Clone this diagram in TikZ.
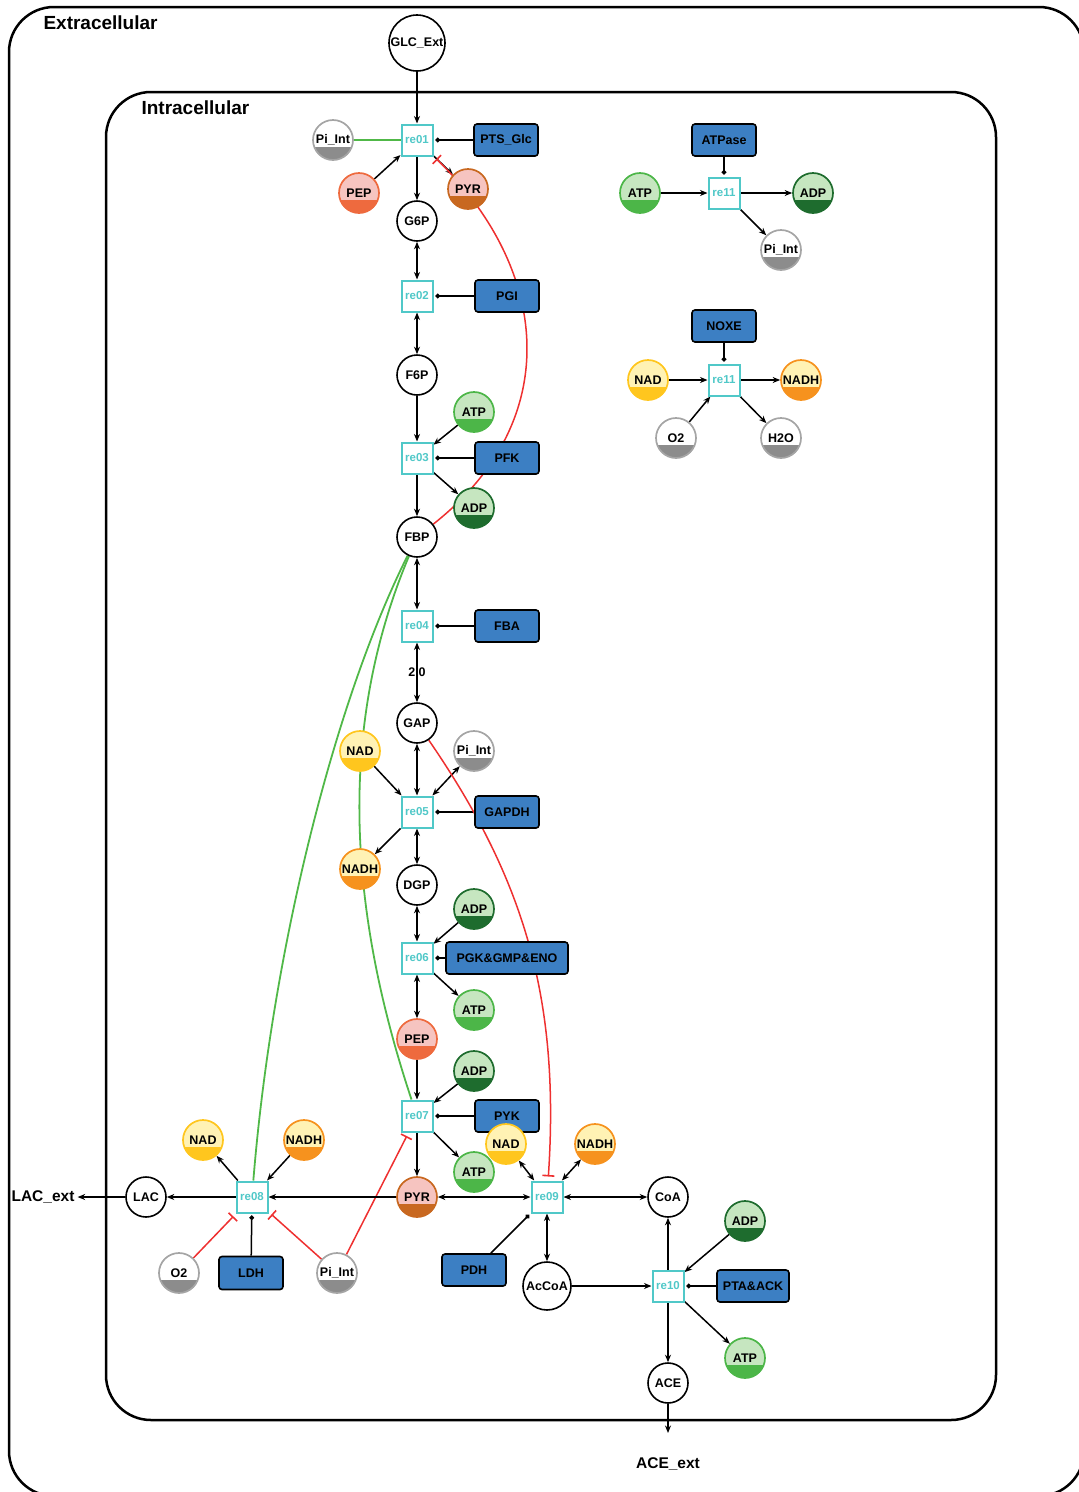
\documentclass[tikz,border=0pt]{standalone}
\usepackage{fontspec}
\setmainfont{Liberation Sans}
\usetikzlibrary{arrows.meta,calc}

\definecolor{rxcyan}{RGB}{80,200,200}
\definecolor{enzblue}{RGB}{60,127,195}
\definecolor{pinkL}{RGB}{246,196,192}
\definecolor{pepD}{RGB}{238,106,62}
\definecolor{pyrD}{RGB}{200,104,32}
\definecolor{grnL}{RGB}{198,230,192}
\definecolor{atpD}{RGB}{76,182,72}
\definecolor{adpD}{RGB}{30,108,46}
\definecolor{yelL}{RGB}{255,242,180}
\definecolor{nadD}{RGB}{255,198,30}
\definecolor{nadhD}{RGB}{246,146,30}
\definecolor{gryD}{RGB}{140,140,140}
\definecolor{gryB}{RGB}{165,165,165}
\definecolor{actgreen}{RGB}{80,184,72}
\definecolor{inhred}{RGB}{238,48,48}

\newcommand{\spfont}{\fontsize{12.5}{14}\selectfont\bfseries}
\newcommand{\rxfont}{\fontsize{11.5}{13}\selectfont\bfseries}
\newcommand{\ttlfont}{\fontsize{19}{22}\selectfont\bfseries}
\newcommand{\extfont}{\fontsize{15.5}{18}\selectfont\bfseries}

\pgfdeclarelayer{boxes}
\pgfdeclarelayer{links}
\pgfsetlayers{boxes,links,main}

\tikzset{
  sp/.style n args={3}{circle, draw=#3, fill=#1, line width=1.7pt,
    minimum size=40pt, inner sep=0pt, font=\spfont,
    path picture={\fill[#2] ([yshift=-7pt]path picture bounding box.center)
      ++(-30pt,0pt) rectangle ++(60pt,-30pt);}},
  pep/.style={sp={pinkL}{pepD}{pepD}},
  pyr/.style={sp={pinkL}{pyrD}{pyrD}},
  atp/.style={sp={grnL}{atpD}{atpD}},
  adp/.style={sp={grnL}{adpD}{adpD}},
  nad/.style={sp={yelL}{nadD}{nadD}},
  nadh/.style={sp={yelL}{nadhD}{nadhD}},
  inorg/.style={sp={white}{gryD}{gryB}},
  metab/.style={circle, draw=black, fill=white, line width=1.6pt,
    minimum size=40pt, inner sep=0pt, font=\spfont},
  rx/.style={draw=rxcyan, text=rxcyan, fill=white, line width=2pt,
    minimum size=31pt, inner sep=0pt, font=\rxfont},
  enz/.style={draw=black, fill=enzblue, rounded corners=3pt, line width=1.6pt,
    minimum width=64pt, minimum height=32pt, inner sep=0pt, font=\spfont},
  cv/.style={line width=1.5pt, -{Stealth[length=7.5pt,width=6pt]}},
  rv/.style={line width=1.5pt,
    {Stealth[length=7.5pt,width=6pt]}-{Stealth[length=7.5pt,width=6pt]}},
  md/.style={line width=1.5pt, -{Circle[length=4.5pt]}, shorten >=2pt},
  inh/.style={draw=inhred, line width=1.5pt,
    -{Bar[width=12pt,line width=1.6pt]}, shorten >=4pt},
  act/.style={draw=actgreen, line width=1.8pt},
}

\begin{document}
\begin{tikzpicture}[x=1pt,y=-1pt]
\useasboundingbox (0,0) rectangle (1079,1492);

% compartments
\begin{pgfonlayer}{boxes}
  \begin{scope}
    \clip (0,0) rectangle (1079,1492);
    \draw[line width=2.5pt, rounded corners=45pt] (9,7) rectangle (1084,1496);
  \end{scope}
  \draw[line width=2.5pt, rounded corners=45pt] (106,92) rectangle (996,1420);
\end{pgfonlayer}
\node[anchor=west, font=\ttlfont] (extlabel) at (40,23) {Extracellular};
\node[anchor=west, font=\ttlfont] (intlabel) at (138,108) {Intracellular};

% glycolysis column
\node[metab, minimum size=56pt] (glc) at (417,43) {GLC\_Ext};
\node[rx] (re01) at (417,140) {re01};
\node[inorg] (pi1) at (333,140) {Pi\_Int};
\node[enz] (pts) at (506,140) {PTS\_Glc};
\node[pep] (pep1) at (359,193) {PEP};
\node[pyr] (pyr1) at (468,189) {PYR};
\node[metab] (g6p) at (417,221) {G6P};
\node[rx] (re02) at (417,296) {re02};
\node[enz] (pgi) at (507,296) {PGI};
\node[metab] (f6p) at (417,375) {F6P};
\node[atp] (atp1) at (474,412) {ATP};
\node[rx] (re03) at (417,458) {re03};
\node[enz] (pfk) at (507,458) {PFK};
\node[adp] (adp1) at (474,508) {ADP};
\node[metab] (fbp) at (417,537) {FBP};
\node[rx] (re04) at (417,626) {re04};
\node[enz] (fba) at (507,626) {FBA};
\node[metab] (gap) at (417,723) {GAP};
\node[nad] (nad1) at (360,751) {NAD};
\node[inorg] (pi2) at (474,751) {Pi\_Int};
\node[rx] (re05) at (417,812) {re05};
\node[enz] (gapdh) at (507,812) {GAPDH};
\node[nadh] (nadh1) at (360,869) {NADH};
\node[metab] (dgp) at (417,885) {DGP};
\node[adp] (adp2) at (474,909) {ADP};
\node[rx] (re06) at (417,958) {re06};
\node[enz, minimum width=122pt] (pgk) at (507,958) {PGK\&GMP\&ENO};
\node[atp] (atp2) at (474,1010) {ATP};
\node[pep] (pep2) at (417,1039) {PEP};
\node[adp] (adp3) at (474,1071) {ADP};
\node[rx] (re07) at (417,1116) {re07};
\node[enz] (pyk) at (507,1116) {PYK};
\node[atp] (atp3) at (474,1172) {ATP};
\node[pyr] (pyr2) at (417,1197) {PYR};
\node[nad] (nad2) at (506,1144) {NAD};
\node[nadh] (nadh2) at (595,1144) {NADH};
\node[rx] (re09) at (547,1197) {re09};
\node[metab] (coa) at (668,1197) {CoA};

% lactate branch
\node[rx] (re08) at (252,1197) {re08};
\node[metab] (lac) at (146,1197) {LAC};
\node[font=\extfont, inner sep=3pt] (lacext) at (43,1197) {LAC\_ext};
\node[nad] (nad3) at (203,1140) {NAD};
\node[nadh] (nadh3) at (304,1140) {NADH};
\node[inorg] (o2a) at (179,1273) {O2};
\node[enz, minimum height=33pt] (ldh) at (251,1273) {LDH};
\node[inorg] (pi3) at (337,1273) {Pi\_Int};

% acetate branch
\node[enz] (pdh) at (474,1270) {PDH};
\node[metab, minimum size=48pt] (accoa) at (547,1286) {AcCoA};
\node[rx] (re10) at (668,1286) {re10};
\node[enz, minimum width=72pt] (pta) at (753,1286) {PTA\&ACK};
\node[adp] (adp4) at (745,1221) {ADP};
\node[atp] (atp4) at (745,1358) {ATP};
\node[metab] (ace) at (668,1383) {ACE};
\node[font=\extfont] (aceext) at (668,1464) {ACE\_ext};
\coordinate (aceout) at (668,1433);

% ATPase
\node[enz] (atpase) at (724,140) {ATPase};
\node[rx] (re11a) at (724,193) {re11};
\node[atp] (atp5) at (640,193) {ATP};
\node[adp] (adp5) at (813,193) {ADP};
\node[inorg] (pi4) at (781,250) {Pi\_Int};

% NADH oxidase
\node[enz] (noxe) at (724,326) {NOXE};
\node[rx] (re11b) at (724,380) {re11};
\node[nad] (nad4) at (648,380) {NAD};
\node[nadh] (nadh4) at (801,380) {NADH};
\node[inorg] (o2b) at (676,438) {O2};
\node[inorg] (h2o) at (781,438) {H2O};

\begin{pgfonlayer}{links}
  % re01
  \draw[cv] (glc) -- (re01);
  \draw[act] (pi1) -- (re01);
  \draw[md] (pts) -- (re01);
  \draw[cv] (pep1) -- (re01);
  \draw[cv] (re01) -- (pyr1);
  \draw[cv] (re01) -- (g6p);
  \draw[inh] (fbp) .. controls (565,420) and (550,270) .. (re01);
  % re02
  \draw[rv] (g6p) -- (re02);
  \draw[rv] (re02) -- (f6p);
  \draw[md] (pgi) -- (re02);
  % re03
  \draw[cv] (f6p) -- (re03);
  \draw[cv] (atp1) -- (re03);
  \draw[cv] (re03) -- (adp1);
  \draw[cv] (re03) -- (fbp);
  \draw[md] (pfk) -- (re03);
  % re04
  \draw[rv] (fbp) -- (re04);
  \draw[rv] (re04) -- node[font=\spfont] {2.0} (gap);
  \draw[md] (fba) -- (re04);
  % FBP activation
  \draw[act] (fbp) .. controls (340,720) and (345,900) .. (re07);
  \draw[act] (fbp) .. controls (335,700) and (272,950) .. (re08);
  % re05
  \draw[rv] (gap) -- (re05);
  \draw[cv] (nad1) -- (re05);
  \draw[rv] (pi2) -- (re05);
  \draw[cv] (re05) -- (nadh1);
  \draw[rv] (re05) -- (dgp);
  \draw[md] (gapdh) -- (re05);
  \draw[inh] (gap) .. controls (525,880) and (560,1000) .. (re09);
  % re06
  \draw[rv] (dgp) -- (re06);
  \draw[cv] (adp2) -- (re06);
  \draw[cv] (re06) -- (atp2);
  \draw[rv] (re06) -- (pep2);
  \draw[md] (pgk) -- (re06);
  % re07
  \draw[cv] (pep2) -- (re07);
  \draw[cv] (adp3) -- (re07);
  \draw[cv] (re07) -- (atp3);
  \draw[cv] (re07) -- (pyr2);
  \draw[md] (pyk) -- (re07);
  \draw[inh] (pi3) -- (re07);
  % re08
  \draw[cv] (pyr2) -- (re08);
  \draw[cv] (re08) -- (lac);
  \draw[cv] (lac) -- (lacext);
  \draw[cv] (re08) -- (nad3);
  \draw[cv] (nadh3) -- (re08);
  \draw[inh] (o2a) -- (re08);
  \draw[inh] (pi3) -- (re08);
  \draw[md] (ldh) -- (re08);
  % re09
  \draw[rv] (pyr2) -- (re09);
  \draw[rv] (re09) -- (coa);
  \draw[rv] (re09) -- (accoa);
  \draw[rv] (nad2) -- (re09);
  \draw[rv] (nadh2) -- (re09);
  \draw[md] (pdh) -- (re09);
  % re10
  \draw[cv] (accoa) -- (re10);
  \draw[cv] (re10) -- (coa);
  \draw[cv] (adp4) -- (re10);
  \draw[cv] (re10) -- (atp4);
  \draw[cv] (re10) -- (ace);
  \draw[md] (pta) -- (re10);
  \draw[cv] (ace) -- (aceout);
  % ATPase
  \draw[cv] (atp5) -- (re11a);
  \draw[cv] (re11a) -- (adp5);
  \draw[cv] (re11a) -- (pi4);
  \draw[md] (atpase) -- (re11a);
  % NOXE
  \draw[cv] (nad4) -- (re11b);
  \draw[cv] (re11b) -- (nadh4);
  \draw[cv] (o2b) -- (re11b);
  \draw[cv] (re11b) -- (h2o);
  \draw[md] (noxe) -- (re11b);
\end{pgfonlayer}
\end{tikzpicture}
\end{document}
